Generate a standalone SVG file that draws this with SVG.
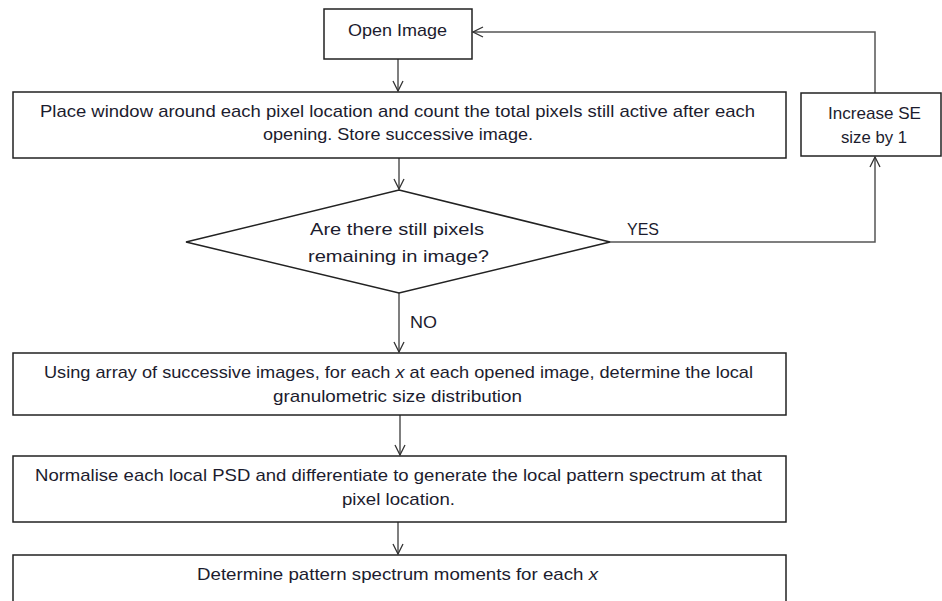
<svg xmlns="http://www.w3.org/2000/svg" width="942" height="601" viewBox="0 0 942 601">
  <defs>
    <marker id="arrow" viewBox="0 0 12 12" refX="11" refY="6" markerWidth="12" markerHeight="12" markerUnits="userSpaceOnUse" orient="auto">
      <path d="M1,1 L11,6 L1,11" fill="none" stroke="#333" stroke-width="1.3"/>
    </marker>
  </defs>
  <style>
    .box { fill: #fff; stroke: #222; stroke-width: 1.5; }
    .link { fill: none; stroke: #555; stroke-width: 1.5; marker-end: url(#arrow); }
    text { font-family: "Liberation Sans", Arial, sans-serif; font-size: 17px; fill: #1c1c2e; }
    .mid { text-anchor: middle; }
  </style>
  <rect width="942" height="601" fill="#fff"/>

  <g id="connectors">
    <path class="link" d="M398,59 L398,91"/>
    <path class="link" d="M399,158 L399,189"/>
    <path class="link" d="M399,293 L399,352"/>
    <path class="link" d="M400,415 L400,455"/>
    <path class="link" d="M398,522 L398,554"/>
    <path class="link" d="M610,242 L875,242 L875,157"/>
    <path class="link" d="M875,93 L875,32 L473,32"/>
    <text x="627" y="235" textLength="32" lengthAdjust="spacingAndGlyphs">YES</text>
    <text x="410" y="328" textLength="27" lengthAdjust="spacingAndGlyphs">NO</text>
  </g>

  <g id="open-image">
    <rect class="box" x="324" y="9" width="148" height="50"/>
    <text x="348" y="36" textLength="99" lengthAdjust="spacingAndGlyphs">Open Image</text>
  </g>

  <g id="place-window">
    <rect class="box" x="13" y="92" width="773" height="66"/>
    <text x="40" y="117" textLength="715" lengthAdjust="spacingAndGlyphs">Place window around each pixel location and count the total pixels still active after each</text>
    <text x="263" y="140" textLength="270" lengthAdjust="spacingAndGlyphs">opening. Store successive image.</text>
  </g>

  <g id="increase-se">
    <rect class="box" x="801" y="93" width="140" height="63"/>
    <text x="828" y="119" textLength="93" lengthAdjust="spacingAndGlyphs">Increase SE</text>
    <text x="841" y="143" textLength="66" lengthAdjust="spacingAndGlyphs">size by 1</text>
  </g>

  <g id="pixels-remaining">
    <polygon class="box" points="399,190 610,242 399,293 186,242"/>
    <text x="310" y="235" textLength="174" lengthAdjust="spacingAndGlyphs">Are there still pixels</text>
    <text x="308" y="262" textLength="181" lengthAdjust="spacingAndGlyphs">remaining in image?</text>
  </g>

  <g id="size-distribution">
    <rect class="box" x="13" y="353" width="773" height="62"/>
    <text x="44" y="378" textLength="709" lengthAdjust="spacingAndGlyphs">Using array of successive images, for each <tspan font-style="italic">x</tspan> at each opened image, determine the local</text>
    <text x="273" y="402" textLength="249" lengthAdjust="spacingAndGlyphs">granulometric size distribution</text>
  </g>

  <g id="pattern-spectrum">
    <rect class="box" x="13" y="456" width="773" height="66"/>
    <text x="35" y="481" textLength="727" lengthAdjust="spacingAndGlyphs">Normalise each local PSD and differentiate to generate the local pattern spectrum at that</text>
    <text x="342" y="505" textLength="113" lengthAdjust="spacingAndGlyphs">pixel location.</text>
  </g>

  <g id="spectrum-moments">
    <rect class="box" x="13" y="555" width="773" height="60"/>
    <text x="197" y="580" textLength="401" lengthAdjust="spacingAndGlyphs">Determine pattern spectrum moments for each <tspan font-style="italic">x</tspan></text>
  </g>
</svg>
